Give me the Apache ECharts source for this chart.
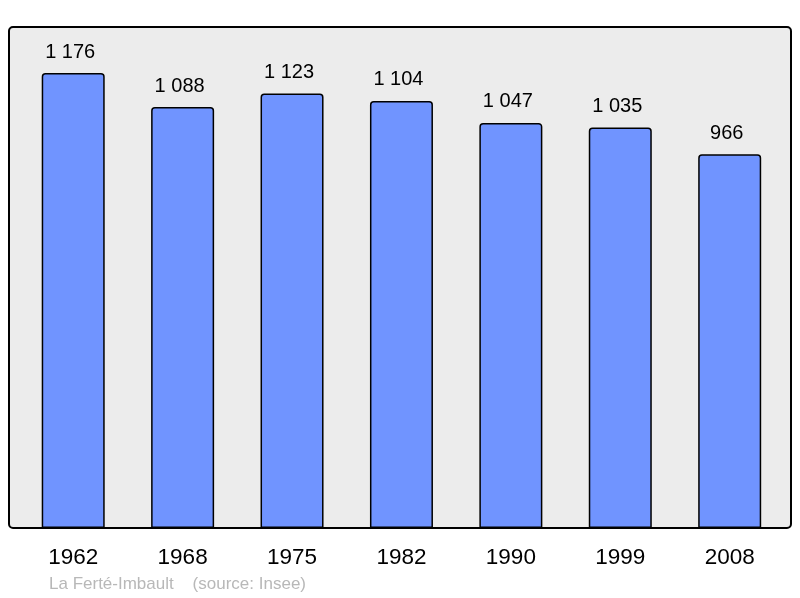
<!DOCTYPE html>
<html><head><meta charset="utf-8">
<script src="https://cdn.jsdelivr.net/npm/echarts@6/dist/echarts.min.js"></script>
<style>html,body{margin:0;padding:0;background:#fff}#c{width:800px;height:598px}</style>
</head><body><div id="c"></div>
<script>
var years = ['1962','1968','1975','1982','1990','1999','2008'];
var population = [1176, 1088, 1123, 1104, 1047, 1035, 966];
var footer = 'La Ferté-Imbault    (source: Insee)';

function fmt(v){ return String(v).replace(/\B(?=(\d{3})+(?!\d))/g, ' '); }

var chart = echarts.init(document.getElementById('c'));
chart.setOption({
  animation: false,
  backgroundColor: '#ffffff',
  graphic: [
    { type: 'rect', z: -10, shape: { x: 9, y: 27, width: 782, height: 501, r: 4 },
      style: { fill: '#ececec', stroke: '#000', lineWidth: 2 } },
    { type: 'text', left: 49, top: 576, style: { text: footer, fill: '#b8b8b8', font: '17px "Liberation Sans", Arial, sans-serif' } }
  ],
  grid: { left: 18.5, right: 15.6, top: 27, bottom: 70, containLabel: false },
  xAxis: {
    type: 'category', data: years,
    axisLine: { show: false }, axisTick: { show: false },
    axisLabel: { margin: 18, fontSize: 22.5, color: '#000', fontFamily: '"Liberation Sans", Arial, sans-serif' }
  },
  yAxis: {
    type: 'value', min: 0, max: 1295,
    show: false, splitLine: { show: false }
  },
  series: [{
    type: 'bar', data: population, barWidth: 63,
    itemStyle: { color: '#7094ff', borderColor: '#000', borderWidth: 1.5, borderRadius: [3,3,0,0] },
    label: { show: true, position: 'top', distance: 11, fontSize: 20, color: '#000',
      offset: [-3, 0],
      fontFamily: '"Liberation Sans", Arial, sans-serif',
      formatter: function(p){ return fmt(p.value); } }
  }]
});
</script></body></html>
